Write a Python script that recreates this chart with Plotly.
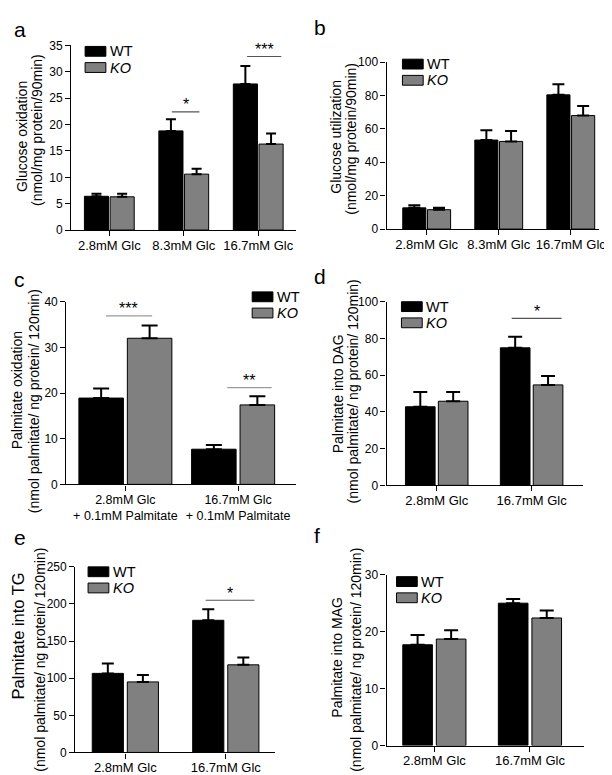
import plotly.graph_objects as go

W, H = 612, 775
FONT = "Liberation Sans, Arial, sans-serif"

# ---------------- data ----------------
cats3 = ["2.8mM Glc", "8.3mM Glc", "16.7mM Glc"]
cats2 = ["2.8mM Glc", "16.7mM Glc"]
cats_palm = ["2.8mM Glc<br>+ 0.1mM Palmitate", "16.7mM Glc<br>+ 0.1mM Palmitate"]

a_wt = [6.4, 18.8, 27.7]
a_wt_err = [0.5, 2.2, 3.4]
a_ko = [6.3, 10.6, 16.3]
a_ko_err = [0.6, 1.0, 2.0]

b_wt = [12.7, 53.3, 80.4]
b_wt_err = [1.6, 5.9, 6.3]
b_ko = [11.6, 52.5, 68.0]
b_ko_err = [1.1, 6.3, 5.7]

c_wt = [18.9, 7.7]
c_wt_err = [2.1, 0.9]
c_ko = [32.0, 17.4]
c_ko_err = [2.8, 1.9]

d_wt = [42.8, 74.9]
d_wt_err = [8.0, 6.0]
d_ko = [45.8, 54.7]
d_ko_err = [5.0, 4.8]

e_wt = [106.5, 178.0]
e_wt_err = [13.2, 14.8]
e_ko = [95.0, 118.0]
e_ko_err = [9.3, 10.0]

f_wt = [17.7, 25.0]
f_wt_err = [1.7, 0.75]
f_ko = [18.7, 22.4]
f_ko_err = [1.55, 1.3]

y_title1 = {
    "a": "Glucose oxidation",
    "b": "Glucose utilization",
    "c": "Palmitate oxidation",
    "d": "Palmitate into DAG",
    "e": "Palmitate into TG",
    "f": "Palmitate into MAG",
}
y_title2 = {
    "a": "(nmol/mg protein/90min)",
    "b": "(nmol/mg protein/90min)",
    "c": "(nmol palmitate/ ng protein/ 120min)",
    "d": "(nmol palmitate/ ng protein/ 120min)",
    "e": "(nmol palmitate/ ng protein/ 120min)",
    "f": "(nmol palmitate/ ng protein/ 120min)",
}
y_ranges = {"a": (0, 35, 5), "b": (0, 100, 20), "c": (0, 40, 10),
            "d": (0, 100, 20), "e": (0, 250, 50), "f": (0, 30, 10)}

# significance marks: (x0, x1, y, label)
sig = {
    "a": [(0.84, 1.21, 22.4, "*"), (1.85, 2.31, 32.9, "***")],
    "c": [(-0.173, 0.237, 36.9, "***"), (0.904, 1.298, 21.2, "**")],
    "d": [(0.79, 1.316, 90.9, "*")],
    "e": [(0.80, 1.285, 205.0, "*")],
}

# ---------------- layout geometry (pixels) ----------------
panels = {
    "a": (cats3, a_wt, a_wt_err, a_ko, a_ko_err),
    "b": (cats3, b_wt, b_wt_err, b_ko, b_ko_err),
    "c": (cats_palm, c_wt, c_wt_err, c_ko, c_ko_err),
    "d": (cats2, d_wt, d_wt_err, d_ko, d_ko_err),
    "e": (cats2, e_wt, e_wt_err, e_ko, e_ko_err),
    "f": (cats2, f_wt, f_wt_err, f_ko, f_ko_err),
}
geom = {
    "a": dict(xpx=(64, 291), xr=(-0.511, 2.503), ypx=(219, 31)),
    "b": dict(xpx=(383, 598), xr=(-0.556, 2.394), ypx=(218, 48)),
    "c": dict(xpx=(59, 291), xr=(-0.524, 1.511), ypx=(478, 292)),
    "d": dict(xpx=(383, 582), xr=(-0.528, 1.545), ypx=(479, 292)),
    "e": dict(xpx=(68, 270), xr=(-0.499, 1.489), ypx=(751, 562)),
    "f": dict(xpx=(383, 583), xr=(-0.4995, 1.569), ypx=(744, 570)),
}
bar_style = {
    "a": dict(w=0.324, wo=-0.3345, ko=0.0105, cap=5),
    "b": dict(w=0.321, wo=-0.332, ko=0.011, cap=6),
    "c": dict(w=0.395, wo=-0.4125, ko=0.0175, cap=8, kow=[0.395, 0.307]),
    "d": dict(w=0.3125, wo=-0.3295, ko=0.017, cap=7),
    "e": dict(w=0.31, wo=-0.3295, ko=0.0195, cap=6),
    "f": dict(w=0.31, wo=-0.3305, ko=0.0205, cap=7),
}
xtick_size = {"a": 13, "b": 13, "c": 12.5, "d": 13, "e": 13, "f": 13}
YTICK = 12
TSHIFT = -6
# title line centres (x px, y px) and font size
title1_pos = {"a": (20, 123.5, 14), "b": (337.7, 124, 14), "c": (15, 382.3, 14),
              "d": (339.3, 385.8, 14), "e": (16, 632, 16.5), "f": (339.3, 654, 14)}
title2_pos = {"a": (36, 117.5, 14), "b": (353.3, 125.7, 14), "c": (32.3, 393.3, 14),
              "d": (355, 383.3, 14), "e": (39, 657, 14), "f": (357.7, 657, 14)}
legend_pos = {  # box left px, WT box top px
    "a": (78, 32), "b": (399, 45), "c": (247, 282),
    "d": (398, 292), "e": (81, 562), "f": (393, 572),
}
LEG_GAP = 16.5
labels_pos = {"a": (4, 15), "b": (308, 13), "c": (4, 269),
              "d": (308, 266), "e": (4, 532), "f": (308, 530)}


def px_x(v):
    return v / W


def px_y(v):
    return 1 - v / H


fig = go.Figure()
shapes, annotations = [], []
layout_axes = {}

for i, key in enumerate(["a", "b", "c", "d", "e", "f"]):
    n = "" if i == 0 else str(i + 1)
    xa, ya = "x" + n, "y" + n
    cats, wt, wt_err, ko, ko_err = panels[key]
    g = geom[key]
    st = bar_style[key]
    xs = list(range(len(cats)))
    kow = st.get("kow", st["w"])
    fig.add_trace(go.Bar(
        x=xs, y=wt, width=st["w"], offset=st["wo"], xaxis=xa, yaxis=ya,
        marker=dict(color="black", line=dict(color="black", width=1)),
        error_y=dict(type="data", array=wt_err, arrayminus=[0] * len(wt),
                     symmetric=False, color="black", thickness=2, width=st["cap"]),
        showlegend=False, name="WT"))
    fig.add_trace(go.Bar(
        x=xs, y=ko, width=kow, offset=st["ko"], xaxis=xa, yaxis=ya,
        marker=dict(color="#808080", line=dict(color="black", width=1)),
        error_y=dict(type="data", array=ko_err, arrayminus=[0] * len(ko),
                     symmetric=False, color="black", thickness=2, width=st["cap"]),
        showlegend=False, name="KO"))

    y0, y1, dt = y_ranges[key]
    axis_common = dict(showgrid=False, zeroline=False, showline=True,
                       linecolor="black", linewidth=1.3, ticks="outside",
                       ticklen=5, tickwidth=1.3, tickcolor="black")
    layout_axes["xaxis" + n] = dict(
        axis_common, domain=[px_x(g["xpx"][0]), px_x(g["xpx"][1])],
        range=list(g["xr"]), anchor=ya, tickmode="array",
        tickvals=xs, ticktext=cats, fixedrange=True, ticklabelstandoff=-2,
        tickfont=dict(family=FONT, size=xtick_size[key], color="black"))
    layout_axes["yaxis" + n] = dict(
        axis_common, domain=[px_y(g["ypx"][0]), px_y(g["ypx"][1])],
        range=[y0, y1], anchor=xa, tickmode="linear", tick0=0, dtick=dt,
        fixedrange=True, tickfont=dict(family=FONT, size=YTICK, color="black"))

    # y title, two lines
    for txt, (tx, ty, fs) in ((y_title1[key], title1_pos[key]),
                              (y_title2[key], title2_pos[key])):
        annotations.append(dict(
            text=txt, xref="paper", yref="paper", x=px_x(tx + TSHIFT), y=px_y(ty),
            xanchor="center", yanchor="middle", textangle=-90, showarrow=False,
            borderpad=0, font=dict(family=FONT, size=fs, color="black")))

    # panel letter
    lx, ly = labels_pos[key]
    annotations.append(dict(
        text=key, xref="paper", yref="paper", x=px_x(lx), y=px_y(ly),
        xanchor="left", yanchor="middle", showarrow=False,
        font=dict(family=FONT, size=21, color="black")))

    # legend (drawn)
    bx, by = legend_pos[key]
    for j, (lab, col, it) in enumerate([("WT", "black", False), ("KO", "#808080", True)]):
        top = by + j * LEG_GAP
        shapes.append(dict(type="rect", xref="paper", yref="paper",
                           x0=px_x(bx), x1=px_x(bx + 21), y0=px_y(top + 10), y1=px_y(top),
                           fillcolor=col, line=dict(color="black", width=1)))
        annotations.append(dict(
            text=("<i>%s</i>" % lab) if it else lab, xref="paper", yref="paper",
            x=px_x(bx + 24), y=px_y(top + 5), xanchor="left", yanchor="middle",
            showarrow=False, borderpad=0,
            font=dict(family=FONT, size=14.5, color="black")))

    # significance
    for (sx0, sx1, sy, lab) in sig.get(key, []):
        lc = "#9a9a9a" if key == "c" else "#555555"
        shapes.append(dict(type="line", xref=xa, yref=ya, x0=sx0, x1=sx1,
                           y0=sy, y1=sy, line=dict(color=lc, width=1.2)))
        annotations.append(dict(
            text=lab, xref=xa, yref=ya, x=(sx0 + sx1) / 2, y=sy,
            xanchor="center", yanchor="middle", yshift=7, showarrow=False,
            borderpad=0, font=dict(family=FONT, size=16, color="black")))

fig.update_layout(
    width=W, height=H, margin=dict(l=0, r=0, t=0, b=0),
    paper_bgcolor="white", plot_bgcolor="white",
    barmode="overlay", showlegend=False,
    shapes=shapes, annotations=annotations,
    font=dict(family=FONT, color="black"),
    **layout_axes)

fig.write_html("out.html")
